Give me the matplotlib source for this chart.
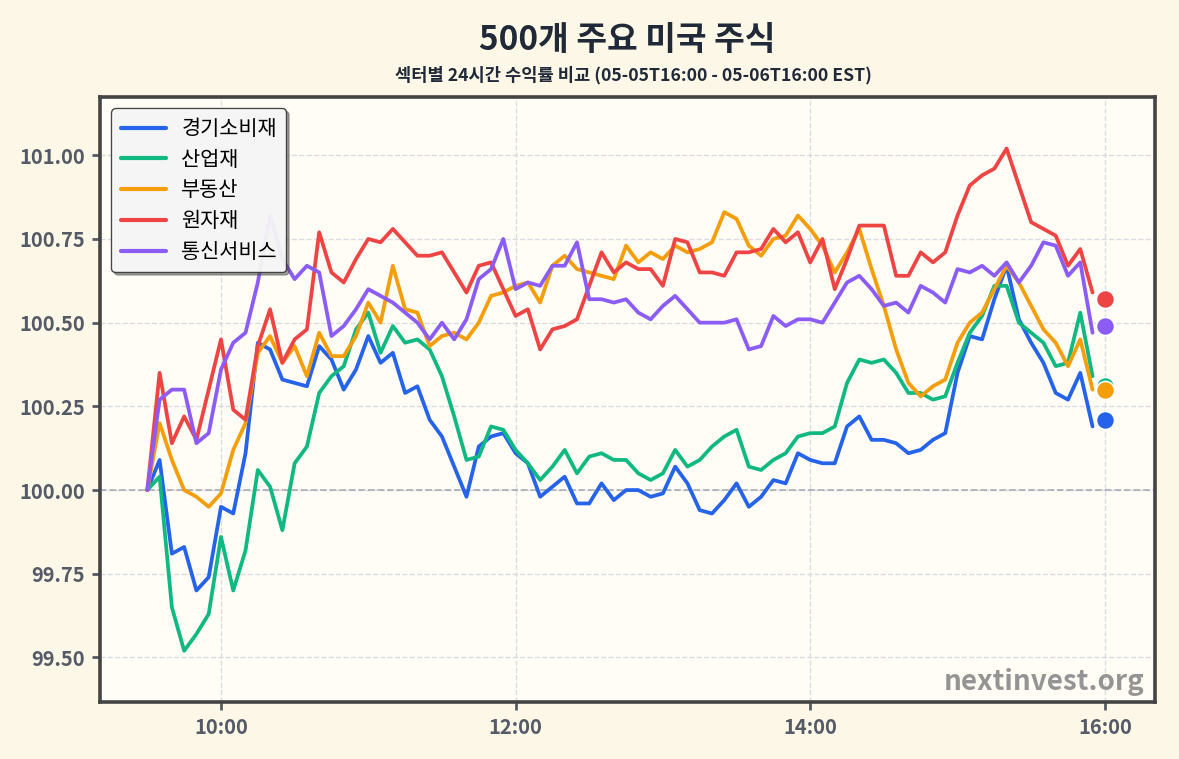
import pandas as pd
import matplotlib
matplotlib.use("Agg")
from matplotlib import pyplot as plt
import matplotlib.dates as mdates

plt.rcParams['font.family'] = ['Noto Sans CJK KR', 'DejaVu Sans']

# 5분 간격 시간 (09:30 ~ 15:55)
times = pd.date_range("2024-05-06 09:30", periods=78, freq="5min")
close_time = pd.Timestamp("2024-05-06 16:00")

sectors = ["경기소비재", "산업재", "부동산", "원자재", "통신서비스"]
colors = ["#2563eb", "#10b981", "#f59e0b", "#ef4444", "#8b5cf6"]

consumer = [100.00, 100.09, 99.81, 99.83, 99.70, 99.74, 99.95, 99.93, 100.11, 100.44,
            100.42, 100.33, 100.32, 100.31, 100.43, 100.39, 100.30, 100.36, 100.46, 100.38,
            100.41, 100.29, 100.31, 100.21, 100.16, 100.07, 99.98, 100.13, 100.16, 100.17,
            100.11, 100.08, 99.98, 100.01, 100.04, 99.96, 99.96, 100.02, 99.97, 100.00,
            100.00, 99.98, 99.99, 100.07, 100.02, 99.94, 99.93, 99.97, 100.02, 99.95,
            99.98, 100.03, 100.02, 100.11, 100.09, 100.08, 100.08, 100.19, 100.22, 100.15,
            100.15, 100.14, 100.11, 100.12, 100.15, 100.17, 100.35, 100.46, 100.45, 100.57,
            100.67, 100.51, 100.44, 100.38, 100.29, 100.27, 100.35, 100.19]
industrial = [100.00, 100.04, 99.65, 99.52, 99.57, 99.63, 99.86, 99.70, 99.82, 100.06,
              100.01, 99.88, 100.08, 100.13, 100.29, 100.34, 100.37, 100.48, 100.53, 100.41,
              100.49, 100.44, 100.45, 100.42, 100.34, 100.22, 100.09, 100.10, 100.19, 100.18,
              100.12, 100.08, 100.03, 100.07, 100.12, 100.05, 100.10, 100.11, 100.09, 100.09,
              100.05, 100.03, 100.05, 100.12, 100.07, 100.09, 100.13, 100.16, 100.18, 100.07,
              100.06, 100.09, 100.11, 100.16, 100.17, 100.17, 100.19, 100.32, 100.39, 100.38,
              100.39, 100.35, 100.29, 100.29, 100.27, 100.28, 100.38, 100.47, 100.52, 100.61,
              100.61, 100.50, 100.47, 100.44, 100.37, 100.38, 100.53, 100.34]
realestate = [100.00, 100.20, 100.09, 100.00, 99.98, 99.95, 99.99, 100.12, 100.20, 100.41,
              100.46, 100.38, 100.43, 100.34, 100.47, 100.40, 100.40, 100.46, 100.56, 100.50,
              100.67, 100.54, 100.53, 100.43, 100.46, 100.47, 100.45, 100.50, 100.58, 100.59,
              100.61, 100.62, 100.56, 100.67, 100.70, 100.66, 100.65, 100.64, 100.63, 100.73,
              100.68, 100.71, 100.69, 100.73, 100.71, 100.72, 100.74, 100.83, 100.81, 100.73,
              100.70, 100.75, 100.76, 100.82, 100.78, 100.73, 100.65, 100.71, 100.78, 100.66,
              100.55, 100.42, 100.32, 100.28, 100.31, 100.33, 100.44, 100.50, 100.53, 100.60,
              100.67, 100.62, 100.55, 100.48, 100.44, 100.37, 100.45, 100.30]
materials = [100.00, 100.35, 100.14, 100.22, 100.15, 100.30, 100.45, 100.24, 100.21, 100.43,
             100.54, 100.38, 100.45, 100.48, 100.77, 100.65, 100.62, 100.69, 100.75, 100.74,
             100.78, 100.74, 100.70, 100.70, 100.71, 100.65, 100.59, 100.67, 100.68, 100.60,
             100.52, 100.54, 100.42, 100.48, 100.49, 100.51, 100.61, 100.71, 100.65, 100.68,
             100.66, 100.66, 100.61, 100.75, 100.74, 100.65, 100.65, 100.64, 100.71, 100.71,
             100.72, 100.78, 100.74, 100.77, 100.68, 100.75, 100.60, 100.69, 100.79, 100.79,
             100.79, 100.64, 100.64, 100.71, 100.68, 100.71, 100.82, 100.91, 100.94, 100.96,
             101.02, 100.91, 100.80, 100.78, 100.76, 100.67, 100.72, 100.59]
telecom = [100.00, 100.27, 100.30, 100.30, 100.14, 100.17, 100.36, 100.44, 100.47, 100.62,
           100.82, 100.69, 100.63, 100.67, 100.65, 100.46, 100.49, 100.54, 100.60, 100.58,
           100.56, 100.53, 100.50, 100.45, 100.50, 100.45, 100.51, 100.63, 100.66, 100.75,
           100.60, 100.62, 100.61, 100.67, 100.67, 100.74, 100.57, 100.57, 100.56, 100.57,
           100.53, 100.51, 100.55, 100.58, 100.54, 100.50, 100.50, 100.50, 100.51, 100.42,
           100.43, 100.52, 100.49, 100.51, 100.51, 100.50, 100.56, 100.62, 100.64, 100.60,
           100.55, 100.56, 100.53, 100.61, 100.59, 100.56, 100.66, 100.65, 100.67, 100.64,
           100.68, 100.62, 100.67, 100.74, 100.73, 100.64, 100.68, 100.47]
# 16:00 종가 점
close_vals = [100.21, 100.31, 100.30, 100.57, 100.49]

series = [consumer, industrial, realestate, materials, telecom]

fig = plt.figure(figsize=(11.79, 7.59), dpi=100, facecolor="#fdf7e7")
ax = fig.add_axes([0.0848, 0.0751, 0.8948, 0.7971])
ax.set_facecolor("#fffdf6")

for name, vals, c, cv in zip(sectors, series, colors, close_vals):
    ax.plot(times, vals, color=c, linewidth=2.7, label=name, solid_capstyle="round")
    ax.scatter([close_time], [cv], s=170, color=c, edgecolors="white", linewidths=1.2, zorder=5)

ax.axhline(100, color="#9ca3af", linestyle="--", linewidth=1.3, alpha=0.8, zorder=1)
ax.grid(True, linestyle="--", color="#d1d5db", linewidth=1.0, alpha=0.8)
ax.set_axisbelow(True)

ax.set_xlim(pd.Timestamp("2024-05-06 09:10:43"), pd.Timestamp("2024-05-06 16:20:25"))
ax.set_ylim(99.367, 101.174)
ax.xaxis.set_major_locator(mdates.HourLocator(byhour=[10, 12, 14, 16]))
ax.xaxis.set_major_formatter(mdates.DateFormatter("%H:%M"))
ax.set_yticks([99.50, 99.75, 100.00, 100.25, 100.50, 100.75, 101.00])
ax.yaxis.set_major_formatter(matplotlib.ticker.FormatStrFormatter("%.2f"))
ax.tick_params(axis="both", labelsize=14.5, colors="#555b66", length=6, width=2, pad=5)
for lab in ax.get_xticklabels() + ax.get_yticklabels():
    lab.set_fontweight("bold")

for sp in ax.spines.values():
    sp.set_color("#444444")
    sp.set_linewidth(2.6)

leg = ax.legend(loc="upper left", fontsize=15, frameon=True, fancybox=True, shadow=True,
                framealpha=0.9, edgecolor="#333333", handlelength=2.15, handletextpad=0.75,
                borderaxespad=0.55, labelspacing=0.42, borderpad=0.45)
for line in leg.get_lines():
    line.set_linewidth(3)

ax.text(0.99, 0.01, "nextinvest.org", transform=ax.transAxes, ha="right", va="bottom",
        fontsize=20, fontweight="bold", color="#8f8f8f", alpha=0.95)

fig.text(0.532, 0.947, "500개 주요 미국 주식", ha="center", va="center",
         fontsize=24, fontweight="bold", color="#1f2937")
fig.text(0.537, 0.901, "섹터별 24시간 수익률 비교 (05-05T16:00 - 05-06T16:00 EST)", ha="center",
         va="center", fontsize=12.7, fontweight="bold", color="#1f2937")

fig.savefig("out.png", dpi=100, facecolor=fig.get_facecolor())
